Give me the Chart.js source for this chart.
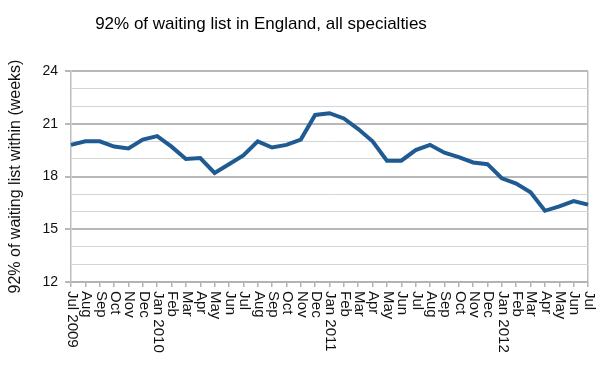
<!DOCTYPE html>
<html>
<head>
<meta charset="utf-8">
<script src="https://cdn.jsdelivr.net/npm/chart.js@4/dist/chart.umd.min.js"></script>
<style>
  html, body { margin: 0; padding: 0; background: #fff; }
  #wrap { position: relative; width: 603px; height: 366px; }
  #title {
    position: absolute; top: 14px; left: 261px; transform: translateX(-50%);
    font: 17px "Liberation Sans", Arial, sans-serif; line-height: 20px;
    color: #000; white-space: nowrap;
  }
</style>
</head>
<body>
<div id="wrap">
  <div id="title">92% of waiting list in England, all specialties</div>
  <canvas id="chart" width="603" height="366"></canvas>
</div>
<script>
// Monthly values, Jul 2009 - Jul 2012
const months = ['Jul 2009', 'Aug', 'Sep', 'Oct', 'Nov', 'Dec',
  'Jan 2010', 'Feb', 'Mar', 'Apr', 'May', 'Jun', 'Jul', 'Aug', 'Sep', 'Oct', 'Nov', 'Dec',
  'Jan 2011', 'Feb', 'Mar', 'Apr', 'May', 'Jun', 'Jul', 'Aug', 'Sep', 'Oct', 'Nov', 'Dec',
  'Jan 2012', 'Feb', 'Mar', 'Apr', 'May', 'Jun', 'Jul'];
const weeks = [19.8, 20.0, 20.0, 19.7, 19.6, 20.1,
  20.3, 19.7, 19.0, 19.05, 18.2, 18.7, 19.2, 20.0, 19.65, 19.8, 20.1, 21.5,
  21.6, 21.3, 20.7, 20.0, 18.9, 18.9, 19.5, 19.8, 19.35, 19.1, 18.8, 18.7,
  17.9, 17.6, 17.1, 16.05, 16.3, 16.6, 16.4];
const yMin = 12, yMax = 24, yMajor = 3;

const labelFont = '15px "Liberation Sans", Arial, sans-serif';

// x labels read top to bottom, so draw them ourselves
const verticalLabels = {
    id: 'verticalLabels',
    afterDraw(chart) {
        const x = chart.scales.x;
        const ctx = chart.ctx;
        ctx.save();
        ctx.font = labelFont;
        ctx.fillStyle = '#111';
        ctx.textAlign = 'left';
        ctx.textBaseline = 'middle';
        months.forEach((m, i) => {
            const px = x.getPixelForTick(i);
            ctx.save();
            ctx.translate(px + 1, x.top + 9);
            ctx.rotate(Math.PI / 2);
            ctx.fillText(m, 0, 0);
            ctx.restore();
        });
        ctx.restore();
    }
};

new Chart(document.getElementById('chart'), {
    type: 'line',
    data: {
        labels: months,
        datasets: [{
            data: weeks,
            borderColor: '#1f5b92',
            borderWidth: 4,
            pointRadius: 0,
            tension: 0,
            fill: false
        }]
    },
    options: {
        responsive: false,
        animation: false,
        layout: { padding: { top: 71, right: 15, left: 0, bottom: 0 } },
        plugins: { legend: { display: false }, tooltip: { enabled: false } },
        scales: {
            x: {
                offset: false,
                afterFit(scale) { scale.height = 84; },
                border: { display: true, color: '#b4b4b4', width: 2 },
                grid: {
                    color: ctx => ctx.index === months.length - 1 ? '#bdbdbd' : 'rgba(0,0,0,0)',
                    tickColor: '#b4b4b4',
                    tickLength: 5,
                    lineWidth: 1.5
                },
                ticks: { display: false, autoSkip: false }
            },
            y: {
                min: yMin,
                max: yMax,
                afterFit(scale) { scale.width = 71; },
                border: { display: true, color: '#bdbdbd', width: 1.5 },
                grid: {
                    color: ctx => (ctx.tick && ctx.tick.value % yMajor === 0) ? '#b8b8b8' : '#d4d4d4',
                    lineWidth: ctx => (ctx.tick && ctx.tick.value % yMajor === 0) ? 2 : 1,
                    tickColor: ctx => (ctx.tick && ctx.tick.value % yMajor === 0) ? '#b8b8b8' : 'rgba(0,0,0,0)',
                    tickLength: 6
                },
                ticks: {
                    stepSize: 1,
                    autoSkip: false,
                    padding: 7,
                    color: '#111',
                    font: { family: '"Liberation Sans", Arial, sans-serif', size: 14 },
                    callback: v => v % yMajor === 0 ? v : ''
                },
                title: {
                    display: true,
                    text: '92% of waiting list within (weeks)',
                    color: '#111',
                    padding: { top: 6, bottom: 0 },
                    font: { family: '"Liberation Sans", Arial, sans-serif', size: 16 }
                }
            }
        }
    },
    plugins: [verticalLabels]
});
</script>
</body>
</html>
